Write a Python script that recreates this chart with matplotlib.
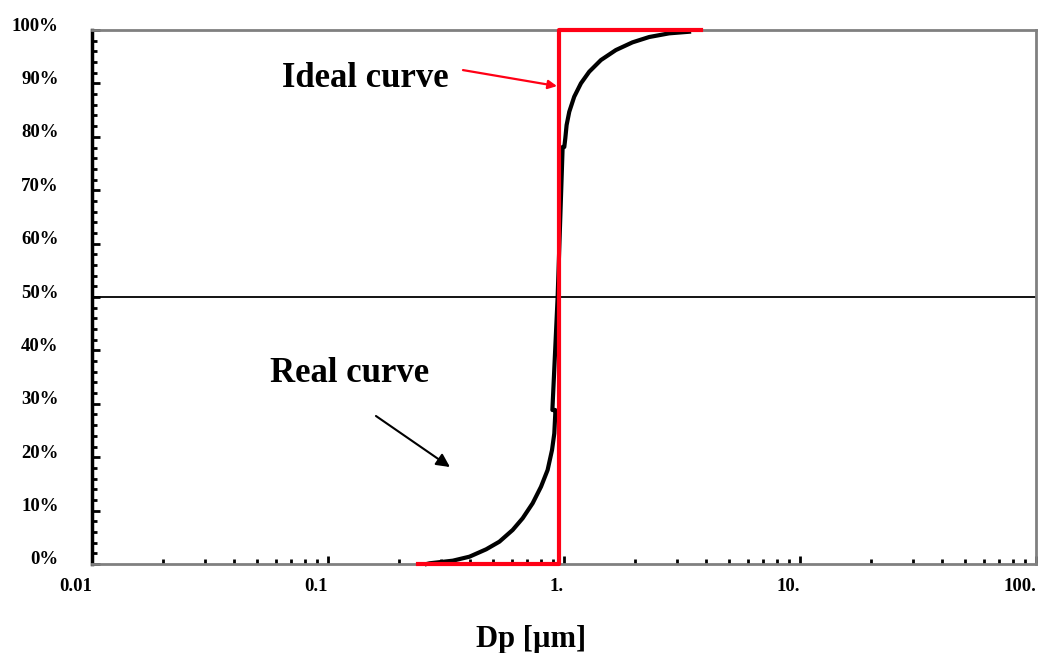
import matplotlib.pyplot as plt
from matplotlib.transforms import ScaledTranslation

# real (measured) cumulative curve, Dp in um vs fraction
real_dp = [0.262, 0.2694, 0.338, 0.3977, 0.468, 0.5325, 0.606, 0.668, 0.7365,
           0.7993, 0.8523, 0.8899, 0.9099, 0.9188, 0.918,
           0.893, 0.94, 0.987,
           1.003, 1.013, 1.026, 1.053, 1.105, 1.180, 1.279, 1.434, 1.659,
           1.950, 2.295, 2.788, 3.388]
real_frac = [0.0, 0.0013, 0.0062, 0.0137, 0.0275, 0.0418, 0.0637, 0.0856, 0.1137,
             0.1448, 0.1760, 0.2135, 0.2447, 0.2821, 0.2884,
             0.2884, 0.50, 0.781,
             0.781, 0.7972, 0.8221, 0.8470, 0.8751, 0.9002, 0.9219, 0.9438, 0.9625,
             0.9769, 0.9869, 0.9938, 0.9968]

# ideal (sharp cut) curve
ideal_dp = [0.24, 0.95, 0.95, 3.8]
ideal_frac = [0.0, 0.0, 1.0, 1.0]

xticks = [0.01, 0.1, 1, 10, 100]
xlabels = ['0.01', '0.1', '1.', '10.', '100.']
yticks = [i / 10 for i in range(11)]
ylabels = [f'{i * 10}%' for i in range(11)]

serif = 'Liberation Serif'
red = '#ff0015'

fig = plt.figure(figsize=(10.42, 6.53), dpi=100)
ax = fig.add_axes([0.0883, 0.1363, 0.9059, 0.8177])

ax.axhline(0.5, color='black', lw=1.3, zorder=1)
ax.plot(real_dp, real_frac, color='black', lw=3, zorder=2, clip_on=False,
        solid_joinstyle='round')
ax.plot(ideal_dp, ideal_frac, color=red, lw=3, zorder=3, clip_on=False)

ax.set_xscale('log')
ax.set_xlim(0.01, 100)
ax.set_ylim(0, 1)

ax.set_xticks(xticks)
ax.set_xticklabels(xlabels, fontfamily=serif, fontweight='bold', fontsize=13.5)
ax.set_yticks(yticks)
ax.set_yticklabels(ylabels, fontfamily=serif, fontweight='bold', fontsize=13.5)
ax.set_yticks([i / 50 for i in range(51)], minor=True)

ax.tick_params(axis='both', which='major', direction='in', length=6, width=2,
               color='black')
ax.tick_params(axis='both', which='minor', direction='in', length=3.5, width=2,
               color='black')
ax.tick_params(axis='x', which='major', pad=10)
ax.tick_params(axis='y', which='major', pad=24)
ax.yaxis.set_tick_params(which='minor', labelleft=False)
ax.xaxis.set_minor_formatter(plt.NullFormatter())

for lbl in ax.get_xticklabels():
    lbl.set_ha('right')
off = ScaledTranslation(0, 6 / 100, fig.dpi_scale_trans)
for lbl in ax.get_yticklabels():
    lbl.set_transform(lbl.get_transform() + off)
    lbl.set_ha('right')

for side in ['top', 'right', 'bottom']:
    ax.spines[side].set_color('#808080')
    ax.spines[side].set_linewidth(2)
ax.spines['left'].set_color('black')
ax.spines['left'].set_linewidth(2.5)

ax.set_xlabel('Dp [µm]', fontfamily=serif, fontweight='bold', fontsize=22)
ax.xaxis.set_label_coords(0.465, -0.115)

# annotations
ax.text(0.2892, 0.8933, 'Ideal curve', transform=ax.transAxes, fontfamily=serif,
        fontweight='bold', fontsize=25, ha='center', va='baseline')
ax.annotate('', xy=(0.4926, 0.895), xytext=(0.393, 0.925),
            xycoords='axes fraction', textcoords='axes fraction',
            arrowprops=dict(arrowstyle='-|>', color=red, lw=1.6,
                            mutation_scale=13, shrinkA=0, shrinkB=0))
ax.text(0.2733, 0.3408, 'Real curve', transform=ax.transAxes, fontfamily=serif,
        fontweight='bold', fontsize=25, ha='center', va='baseline')
ax.annotate('', xy=(0.3792, 0.1816), xytext=(0.3008, 0.2772),
            xycoords='axes fraction', textcoords='axes fraction',
            arrowprops=dict(arrowstyle='-|>', color='black', lw=1.5,
                            mutation_scale=20, shrinkA=0, shrinkB=0))

fig.savefig('out.png', dpi=100)
